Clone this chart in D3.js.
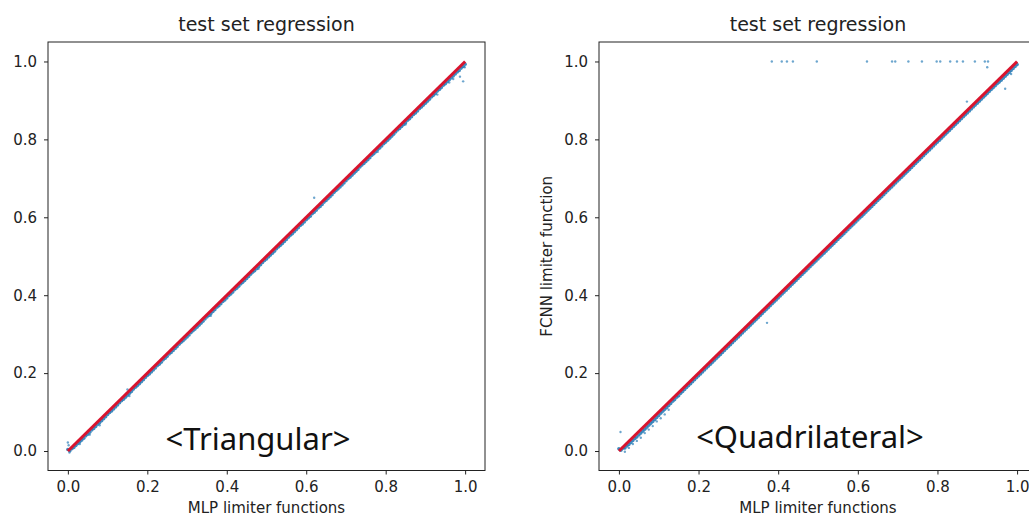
<!DOCTYPE html>
<html>
<head>
<meta charset="utf-8">
<script src="https://cdn.jsdelivr.net/npm/d3@7"></script>
<style>
  body { margin: 0; background: #fff; }
  svg { display: block; }
  .tick text { font-family: "DejaVu Sans", sans-serif; font-size: 15px; fill: #222; }
  .tick line, .domain { stroke: #222; }
</style>
</head>
<body>
<svg id="chart" width="1029" height="517"></svg>
<script>
// x positions of the dense band (test samples sorted by MLP value)
var bandX = [
  0.00,0.01,0.02,0.03,0.04,0.05,0.06,0.07,0.08,0.09,
  0.10,0.11,0.12,0.13,0.14,0.15,0.16,0.17,0.18,0.19,
  0.20,0.21,0.22,0.23,0.24,0.25,0.26,0.27,0.28,0.29,
  0.30,0.31,0.32,0.33,0.34,0.35,0.36,0.37,0.38,0.39,
  0.40,0.41,0.42,0.43,0.44,0.45,0.46,0.47,0.48,0.49,
  0.50,0.51,0.52,0.53,0.54,0.55,0.56,0.57,0.58,0.59,
  0.60,0.61,0.62,0.63,0.64,0.65,0.66,0.67,0.68,0.69,
  0.70,0.71,0.72,0.73,0.74,0.75,0.76,0.77,0.78,0.79,
  0.80,0.81,0.82,0.83,0.84,0.85,0.86,0.87,0.88,0.89,
  0.90,0.91,0.92,0.93,0.94,0.95,0.96,0.97,0.98,0.99,1.00
];
var bandX2 = [
  0.005,0.015,0.025,0.035,0.045,0.055,0.065,0.075,0.085,0.095,
  0.105,0.115,0.125,0.135,0.145,0.155,0.165,0.175,0.185,0.195,
  0.205,0.215,0.225,0.235,0.245,0.255,0.265,0.275,0.285,0.295,
  0.305,0.315,0.325,0.335,0.345,0.355,0.365,0.375,0.385,0.395,
  0.405,0.415,0.425,0.435,0.445,0.455,0.465,0.475,0.485,0.495,
  0.505,0.515,0.525,0.535,0.545,0.555,0.565,0.575,0.585,0.595,
  0.605,0.615,0.625,0.635,0.645,0.655,0.665,0.675,0.685,0.695,
  0.705,0.715,0.725,0.735,0.745,0.755,0.765,0.775,0.785,0.795,
  0.805,0.815,0.825,0.835,0.845,0.855,0.865,0.875,0.885,0.895,
  0.905,0.915,0.925,0.935,0.945,0.955,0.965,0.975,0.985,0.995
];

// triangular: predicted values
var triY = [
  0.004,0.006,0.014,0.024,0.033,0.043,0.054,0.063,0.073,0.083,
  0.094,0.103,0.113,0.124,0.133,0.143,0.153,0.164,0.173,0.183,
  0.194,0.203,0.213,0.223,0.234,0.243,0.253,0.263,0.274,0.283,
  0.293,0.304,0.313,0.323,0.333,0.344,0.353,0.363,0.373,0.384,
  0.393,0.403,0.414,0.423,0.433,0.443,0.454,0.463,0.473,0.484,
  0.493,0.503,0.513,0.524,0.533,0.543,0.554,0.563,0.573,0.583,
  0.594,0.603,0.613,0.624,0.633,0.643,0.653,0.664,0.673,0.683,
  0.694,0.703,0.713,0.723,0.734,0.743,0.753,0.763,0.774,0.783,
  0.793,0.803,0.813,0.824,0.833,0.843,0.853,0.864,0.873,0.883,
  0.893,0.903,0.913,0.924,0.933,0.943,0.953,0.963,0.973,0.983,0.993
];
var triY2 = [
  0.001,0.009,0.019,0.028,0.039,0.048,0.058,0.069,0.078,0.088,
  0.099,0.108,0.118,0.129,0.138,0.148,0.159,0.168,0.178,0.189,
  0.198,0.208,0.219,0.228,0.238,0.249,0.258,0.268,0.279,0.288,
  0.298,0.309,0.318,0.328,0.339,0.348,0.358,0.369,0.378,0.388,
  0.399,0.408,0.418,0.429,0.438,0.448,0.459,0.468,0.478,0.489,
  0.498,0.508,0.519,0.528,0.538,0.549,0.558,0.568,0.579,0.588,
  0.598,0.609,0.618,0.628,0.639,0.648,0.658,0.669,0.678,0.688,
  0.699,0.708,0.718,0.729,0.738,0.748,0.759,0.768,0.778,0.789,
  0.798,0.808,0.819,0.828,0.838,0.849,0.858,0.868,0.879,0.888,
  0.898,0.909,0.918,0.928,0.939,0.948,0.958,0.968,0.977,0.987
];
// triangular: scattered extra samples
var triExtraX = [0.000,0.002,0.004,0.030,0.055,0.080,0.150,0.155,0.360,0.480,0.620,0.780,0.850,0.930,0.960,0.970,0.987,0.995,0.999];
var triExtraY = [0.022,0.015,-0.004,0.018,0.042,0.066,0.158,0.141,0.347,0.468,0.650,0.768,0.838,0.915,0.946,0.955,0.961,0.949,0.985];

// quadrilateral: predicted values
var quadY = [
  0.006,0.007,0.013,0.022,0.032,0.041,0.051,0.061,0.071,0.081,
  0.091,0.102,0.112,0.122,0.132,0.142,0.153,0.163,0.173,0.183,
  0.193,0.203,0.213,0.223,0.233,0.243,0.253,0.263,0.273,0.283,
  0.293,0.303,0.313,0.323,0.333,0.343,0.353,0.363,0.373,0.383,
  0.393,0.403,0.413,0.423,0.433,0.443,0.453,0.463,0.473,0.483,
  0.493,0.503,0.513,0.523,0.533,0.543,0.553,0.563,0.573,0.583,
  0.593,0.603,0.613,0.623,0.633,0.643,0.653,0.663,0.673,0.683,
  0.693,0.703,0.713,0.723,0.733,0.743,0.753,0.763,0.773,0.783,
  0.793,0.803,0.813,0.823,0.833,0.843,0.853,0.863,0.873,0.883,
  0.893,0.903,0.913,0.923,0.933,0.943,0.952,0.962,0.972,0.982,0.992
];
var quadY2 = [
  0.002,0.008,0.017,0.027,0.036,0.046,0.056,0.066,0.076,0.086,
  0.097,0.107,0.117,0.128,0.138,0.148,0.158,0.168,0.178,0.188,
  0.198,0.208,0.218,0.228,0.238,0.248,0.258,0.268,0.278,0.288,
  0.298,0.308,0.318,0.328,0.338,0.348,0.358,0.368,0.378,0.388,
  0.398,0.408,0.418,0.428,0.438,0.448,0.458,0.468,0.478,0.488,
  0.498,0.508,0.518,0.528,0.538,0.548,0.558,0.568,0.578,0.588,
  0.598,0.608,0.618,0.628,0.638,0.648,0.658,0.668,0.678,0.688,
  0.698,0.708,0.718,0.728,0.738,0.748,0.758,0.768,0.778,0.788,
  0.798,0.808,0.818,0.828,0.838,0.848,0.858,0.868,0.878,0.888,
  0.898,0.908,0.918,0.928,0.938,0.947,0.957,0.967,0.977,0.987
];
// quadrilateral: spread and outliers
var quadExtraX = [0.004,0.015,0.025,0.035,0.045,0.055,0.065,0.075,0.085,0.095,0.105,0.115,0.125,0.372,0.874,0.925,0.970,0.985,
  0.384,0.409,0.422,0.437,0.497,0.623,0.686,0.694,0.727,0.761,0.798,0.807,0.832,0.849,0.864,0.894,0.919,0.927];
var quadExtraY = [0.049,-0.002,0.008,0.018,0.026,0.034,0.046,0.055,0.064,0.076,0.084,0.094,0.106,0.329,0.897,0.985,0.930,0.968,
  1.0,1.0,1.0,1.0,1.0,1.0,1.0,1.0,1.0,1.0,1.0,1.0,1.0,1.0,1.0,1.0,1.0,1.0];

var fitX = [0, 1];
var fitY = [0, 1];

var ticks = [0, 0.2, 0.4, 0.6, 0.8, 1.0];
var titles = ["test set regression", "test set regression"];
var xLabels = ["MLP limiter functions", "MLP limiter functions"];
var yLabels = ["", "FCNN limiter function"];
var notes = ["<Triangular>", "<Quadrilateral>"];

var svg = d3.select("#chart");

var panels = [
  { left: 48,  right: 485,  bx: [bandX, bandX2], by: [triY, triY2],   ex: triExtraX,  ey: triExtraY,  noteX: 258, noteY: 450 },
  { left: 599, right: 1037, bx: [bandX, bandX2], by: [quadY, quadY2], ex: quadExtraX, ey: quadExtraY, noteX: 810, noteY: 448 }
];
var plotTop = 42, plotBottom = 470.5;

function pairs(xs, ys) {
  return xs.map(function(v, k) { return [v, ys[k]]; });
}

panels.forEach(function(p, i) {
  var x = d3.scaleLinear().domain([-0.05, 1.05]).range([p.left, p.right]);
  var y = d3.scaleLinear().domain([-0.05, 1.05]).range([plotBottom, plotTop]);
  var g = svg.append("g");

  // dense band
  var band = pairs(p.bx[0], p.by[0]).concat(pairs(p.bx[1], p.by[1]));
  g.append("g").selectAll("circle")
    .data(band)
    .enter().append("circle")
      .attr("cx", function(d) { return x(d[0]); })
      .attr("cy", function(d) { return y(d[1]); })
      .attr("r", 1.8)
      .style("fill", "#1f77b4")
      .style("opacity", 0.85);

  // scattered samples
  g.append("g").selectAll("circle")
    .data(pairs(p.ex, p.ey))
    .enter().append("circle")
      .attr("cx", function(d) { return x(d[0]); })
      .attr("cy", function(d) { return y(d[1]); })
      .attr("r", 1.2)
      .style("fill", "#1f77b4")
      .style("opacity", 0.65);

  // regression line
  var line = d3.line().x(function(d) { return x(d[0]); }).y(function(d) { return y(d[1]); });
  g.append("path")
    .datum(pairs(fitX, fitY))
    .attr("d", line)
    .style("fill", "none")
    .style("stroke", "#d8142e")
    .style("stroke-width", 3);

  // frame
  g.append("rect")
    .attr("x", p.left).attr("y", plotTop)
    .attr("width", p.right - p.left).attr("height", plotBottom - plotTop)
    .style("fill", "none").style("stroke", "#222").style("stroke-width", 1);

  g.append("g")
    .attr("transform", "translate(0," + plotBottom + ")")
    .call(d3.axisBottom(x).tickValues(ticks).tickFormat(d3.format(".1f")).tickSize(4).tickPadding(7).tickSizeOuter(0))
    .select(".domain").remove();
  g.append("g")
    .attr("transform", "translate(" + p.left + ",0)")
    .call(d3.axisLeft(y).tickValues(ticks).tickFormat(d3.format(".1f")).tickSize(4).tickPadding(7).tickSizeOuter(0))
    .select(".domain").remove();

  var cx = (p.left + p.right) / 2;
  g.append("text")
    .attr("x", cx).attr("y", 31)
    .attr("text-anchor", "middle")
    .style("font-family", "DejaVu Sans, sans-serif").style("font-size", "19px").style("fill", "#222")
    .text(titles[i]);
  g.append("text")
    .attr("x", cx).attr("y", 513)
    .attr("text-anchor", "middle")
    .style("font-family", "DejaVu Sans, sans-serif").style("font-size", "15px").style("fill", "#222")
    .text(xLabels[i]);
  if (yLabels[i]) {
    g.append("text")
      .attr("transform", "translate(552," + ((plotTop + plotBottom) / 2) + ") rotate(-90)")
      .attr("text-anchor", "middle")
      .style("font-family", "DejaVu Sans, sans-serif").style("font-size", "15px").style("fill", "#222")
      .text(yLabels[i]);
  }
  g.append("text")
    .attr("x", p.noteX).attr("y", p.noteY)
    .attr("text-anchor", "middle")
    .style("font-family", "Noto Sans, sans-serif").style("font-size", "31px").style("fill", "#111")
    .text(notes[i]);
});
</script>
</body>
</html>
